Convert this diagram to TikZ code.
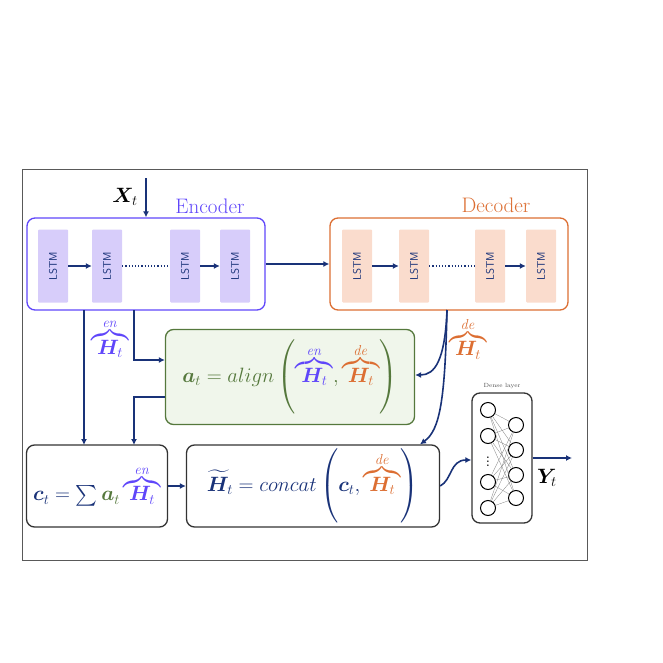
\documentclass[tikz,border=0pt]{standalone}
\usepackage{amsmath}
\usepackage{bm}
\usetikzlibrary{arrows.meta,calc,positioning}
\definecolor{encblue}{RGB}{95,70,250}
\definecolor{encfill}{RGB}{215,205,250}
\definecolor{decorange}{RGB}{220,110,50}
\definecolor{decfill}{RGB}{250,220,205}
\definecolor{navy}{RGB}{25,50,120}
\definecolor{alggreen}{RGB}{85,120,60}
\definecolor{algfill}{RGB}{240,246,235}
\newcommand{\Hen}{{\color{encblue}\overbrace{\bm{H}_t}^{\mathit{en}}}}
\newcommand{\Hde}{{\color{decorange}\overbrace{\bm{H}_t}^{\mathit{de}}}}
\begin{document}
\begin{tikzpicture}[x=1pt, y=-1pt]
  \tikzset{
    box/.style   = {draw, rounded corners=8pt, line width=1.3pt, inner sep=0pt},
    cell/.style  = {rectangle, minimum width=30pt, minimum height=73pt, rounded corners=1pt,
                    inner sep=0pt, font=\sffamily\fontsize{11}{12}\selectfont, text=navy},
    arrow/.style = {draw=navy, line width=1.6pt, -{Latex[length=6pt,width=6pt]}},
    line/.style  = {draw=navy, line width=1.6pt},
    neuron/.style = {draw, circle, line width=1pt, minimum size=15pt, inner sep=0pt},
    mathtxt/.style = {font=\fontsize{21}{24}\selectfont}
  }
  \useasboundingbox (0,0) rectangle (663,663);
  \draw [gray!70!black, line width=1pt] (22,170) rectangle (587,560);

  % encoder / decoder
  \node [box, draw=encblue, minimum width=238pt, minimum height=92pt] (enc) at (146,264) {};
  \node [box, draw=decorange, minimum width=238pt, minimum height=92pt] (dec) at (449,264) {};
  \node [text=encblue, font=\fontsize{21}{24}\selectfont] (enclabel) at (210,206) {Encoder};
  \node [text=decorange, font=\fontsize{21}{24}\selectfont] (declabel) at (496,205) {Decoder};

  \foreach \x/\n in {53/e1, 107/e2, 185/e3, 235/e4}
    \node [cell, fill=encfill] (\n) at (\x,266) {\rotatebox{90}{LSTM}};
  \foreach \x/\n in {357/d1, 414/d2, 490/d3, 541/d4}
    \node [cell, fill=decfill] (\n) at (\x,266) {\rotatebox{90}{LSTM}};

  \draw [arrow, line width=1.2pt] (e1) -- (e2);
  \draw [navy, line width=1.2pt, dotted] (e2) -- (e3);
  \draw [arrow, line width=1.2pt] (e3) -- (e4);
  \draw [arrow, line width=1.2pt] (d1) -- (d2);
  \draw [navy, line width=1.2pt, dotted] (d2) -- (d3);
  \draw [arrow, line width=1.2pt] (d3) -- (d4);

  \coordinate (xin) at (146,178);
  \node [mathtxt] (xt) at (125,197) {$\bm{X}_t$};
  \draw [arrow] (xin) -- (enc.north -| xin);
  \draw [arrow] (enc.east) -- (dec.west);

  % attention
  \node [box, draw=alggreen, fill=algfill, minimum width=249pt, minimum height=95pt,
         mathtxt, text=alggreen] (align) at (290,377)
        {$\bm{a}_t = align\left(\vphantom{\Big(}\Hen,\Hde\right)$};
  \node [box, draw=black!80, minimum width=141pt, minimum height=82pt, mathtxt, text=navy]
        (ct) at (97,486) {$\bm{c}_t = \sum {\color{alggreen}\bm{a}_t}\,\Hen$};
  \node [box, draw=black!80, minimum width=253pt, minimum height=82pt, mathtxt, text=navy]
        (cat) at (313,486) {$\widetilde{\bm{H}}_t = concat\left(\vphantom{\Big(}\bm{c}_t,\Hde\right)$};

  \node [mathtxt] (henlabel) at (110,338) {$\Hen$};
  \node [mathtxt] (hdelabel) at (468,338) {$\Hde$};

  \draw [arrow] (84,310) -- (84,445);
  \draw [arrow] (134,310) |- (align.west |- 0,360);
  \draw [arrow] (align.west |- 0,397) -| (134,445);
  \draw [arrow] (ct.east) -- (cat.west);

  \coordinate (decout) at (447,310);
  \draw [arrow] (decout) .. controls (445,360) and (435,375) .. (align.east |- 0,375);
  \draw [arrow] (decout) .. controls (445,400) and (440,430) .. (cat.north -| 420,0);

  % dense layer
  \node [box, draw=black!80, minimum width=60pt, minimum height=130pt] (dense) at (502,458) {};
  \node [font=\fontsize{6}{7}\selectfont, text=black!70, above=0pt of dense] (denselabel) {Dense layer};
  \foreach \y/\n in {410/l1, 436/l2, 482/l3, 508/l4}
    \node [neuron] (\n) at (488,\y) {};
  \foreach \y/\n in {425/r1, 450/r2, 475/r3, 498/r4}
    \node [neuron] (\n) at (516,\y) {};
  \node [font=\bfseries] (vdots) at (488,459) {$\vdots$};
  \foreach \a in {l1,l2,l3,l4}
    \foreach \b in {r1,r2,r3,r4}
      \draw [gray, line width=0.3pt] (\a) -- (\b);

  \draw [arrow] (cat.east) .. controls (452,480) and (450,460) .. (dense.west |- 0,460);
  \draw [arrow] (dense.east |- 0,458) -- (572,458);
  \node [mathtxt] (yt) at (547,478) {$\bm{Y}_t$};
\end{tikzpicture}
\end{document}
